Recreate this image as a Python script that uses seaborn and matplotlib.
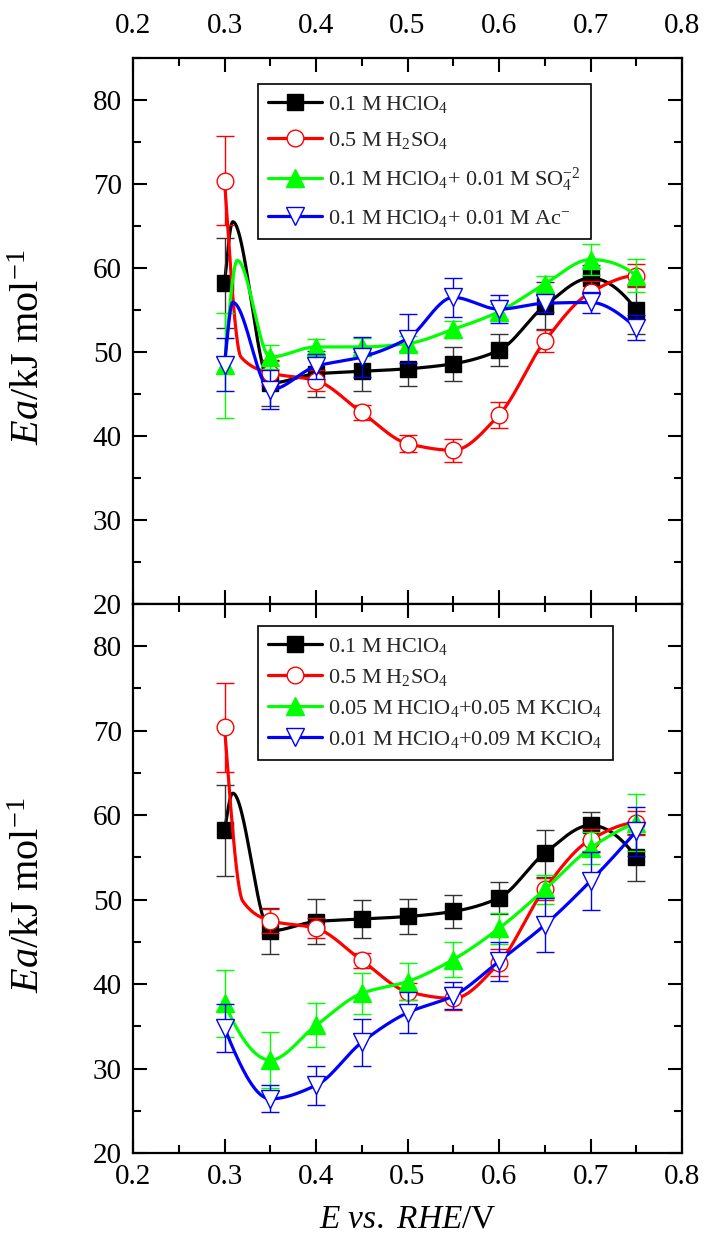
import numpy as np
import pandas as pd
import matplotlib
matplotlib.use("Agg")
import matplotlib.pyplot as plt
import seaborn as sns
from matplotlib.ticker import MultipleLocator, FormatStrFormatter
from matplotlib.lines import Line2D

# ---------------- data ----------------
E = [0.30, 0.35, 0.40, 0.45, 0.50, 0.55, 0.60, 0.65, 0.70, 0.75]

hclo4 = [58.2, 46.3, 47.4, 47.7, 48.0, 48.6, 50.2, 55.5, 58.8, 55.0]
hclo4_err = [5.4, 2.7, 2.7, 2.3, 2.1, 2.0, 1.9, 2.8, 1.6, 2.8]

h2so4 = [70.4, 47.5, 46.6, 42.8, 39.1, 38.3, 42.5, 51.3, 57.1, 59.1]
h2so4_err = [5.3, 1.4, 1.2, 0.9, 1.0, 1.4, 1.6, 1.3, 1.3, 1.4]

so4 = [48.4, 49.4, 50.6, 50.6, 51.0, 52.7, 54.8, 58.1, 61.0, 59.1]
so4_err = [6.3, 1.4, 1.0, 1.1, 0.9, 1.0, 0.9, 1.0, 1.8, 2.0]

ac = [48.5, 45.5, 48.3, 49.4, 51.6, 56.5, 55.1, 55.8, 55.9, 52.9]
ac_err = [3.2, 2.3, 1.5, 2.4, 2.9, 2.3, 1.7, 1.0, 1.2, 1.5]

kclo4_05 = [37.7, 31.0, 35.1, 38.9, 40.3, 42.9, 46.6, 51.2, 56.1, 59.1]
kclo4_05_err = [4.0, 3.3, 2.6, 2.4, 2.2, 2.1, 1.8, 1.7, 1.9, 3.4]

kclo4_09 = [34.8, 26.4, 28.0, 33.1, 36.6, 38.6, 42.7, 47.0, 52.2, 58.1]
kclo4_09_err = [2.8, 1.6, 2.3, 2.8, 2.4, 1.6, 2.3, 3.2, 3.4, 2.9]

# extra knots of the drawn (Origin-spline) curves near 0.31 V
top_knot_E = [0.309, 0.318, 0.314, 0.309]
top_knot_Ea = [65.5, 49.4, 60.9, 55.9]
bot_knot_E = [0.309, 0.320, None, None]
bot_knot_Ea = [62.6, 49.8, None, None]

top_labels = ["0.1 M\u2009HClO$_4$", "0.5 M\u2009H$_2$SO$_4$",
              "0.1 M\u2009HClO$_4$+ 0.01 M\u2009SO$_4^{-2}$",
              "0.1 M\u2009HClO$_4$+ 0.01 M\u2009Ac$^{-}$"]
bot_labels = ["0.1 M\u2009HClO$_4$", "0.5 M\u2009H$_2$SO$_4$",
              "0.05 M\u2009HClO$_4$+0.05 M\u2009KClO$_4$",
              "0.01 M\u2009HClO$_4$+0.09 M\u2009KClO$_4$"]
xticks = [0.2, 0.3, 0.4, 0.5, 0.6, 0.7, 0.8]
yticks = [20, 30, 40, 50, 60, 70, 80]

# ---------------- style ----------------
sns.set_theme(style="ticks")
plt.rcParams["font.family"] = ["Liberation Serif", "DejaVu Serif"]
plt.rcParams["mathtext.fontset"] = "custom"
plt.rcParams["mathtext.rm"] = "Liberation Serif"
plt.rcParams["mathtext.it"] = "Liberation Serif:italic"
plt.rcParams["mathtext.bf"] = "Liberation Serif:bold"

colors = ["#000000", "#ff0000", "#00ff00", "#0000ff"]
ecolors = ["#333333", "#ff0000", "#00ff00", "#0000ff"]
markers = ["s", "o", "^", "v"]
msizes = [11, 12, 13, 13]
faces = ["#000000", "white", "#00ff00", "white"]


def pchip(x, y, xn):
    x = np.asarray(x, float)
    y = np.asarray(y, float)
    h = np.diff(x)
    d = np.diff(y) / h
    n = len(x)
    m = np.zeros(n)
    for k in range(1, n - 1):
        if d[k - 1] * d[k] > 0:
            w1 = 2 * h[k] + h[k - 1]
            w2 = h[k] + 2 * h[k - 1]
            m[k] = (w1 + w2) / (w1 / d[k - 1] + w2 / d[k])

    def end(h0, h1, d0, d1):
        mm = ((2 * h0 + h1) * d0 - h0 * d1) / (h0 + h1)
        if np.sign(mm) != np.sign(d0):
            mm = 0.0
        elif np.sign(d0) != np.sign(d1) and abs(mm) > abs(3 * d0):
            mm = 3 * d0
        return mm

    m[0] = end(h[0], h[1], d[0], d[1])
    m[-1] = end(h[-1], h[-2], d[-1], d[-2])
    idx = np.clip(np.searchsorted(x, xn) - 1, 0, n - 2)
    hh = h[idx]
    t = (xn - x[idx]) / hh
    h00 = 2 * t**3 - 3 * t**2 + 1
    h10 = t**3 - 2 * t**2 + t
    h01 = -2 * t**3 + 3 * t**2
    h11 = t**3 - t**2
    return h00 * y[idx] + h10 * hh * m[idx] + h01 * y[idx + 1] + h11 * hh * m[idx + 1]


def draw_panel(ax, series, errs, kE, kY):
    handles = []
    for i, (ys, es) in enumerate(zip(series, errs)):
        kx = list(E)
        ky = list(ys)
        if kE[i] is not None:
            kx.append(kE[i])
            ky.append(kY[i])
        order = np.argsort(kx)
        kx = np.array(kx)[order]
        ky = np.array(ky)[order]
        xn = np.linspace(min(E), max(E), 600)
        yn = pchip(kx, ky, xn)
        df = pd.DataFrame({"E": xn, "Ea": yn})
        sns.lineplot(data=df, x="E", y="Ea", ax=ax, color=colors[i], lw=2.3,
                     zorder=2 + i, legend=False)
        ax.errorbar(E, ys, yerr=es, fmt="none", ecolor=ecolors[i], elinewidth=1.0,
                    capsize=6.5, capthick=1.0, zorder=2 + i)
        ax.plot(E, ys, linestyle="none", marker=markers[i], ms=msizes[i],
                mfc=faces[i], mec=colors[i], mew=1.0, zorder=3 + i)
        handles.append(Line2D([], [], color=colors[i], lw=2.3, marker=markers[i],
                              ms=msizes[i], mfc=faces[i], mec=colors[i], mew=1.0))
    return handles


fig = plt.figure(figsize=(7.05, 12.49), dpi=100)
ax1 = fig.add_axes([0.1887, 0.5164, 0.7787, 0.4372])
ax2 = fig.add_axes([0.1887, 0.0769, 0.7787, 0.4395])

h1 = draw_panel(ax1, [hclo4, h2so4, so4, ac], [hclo4_err, h2so4_err, so4_err, ac_err],
                top_knot_E, top_knot_Ea)
h2 = draw_panel(ax2, [hclo4, h2so4, kclo4_05, kclo4_09],
                [hclo4_err, h2so4_err, kclo4_05_err, kclo4_09_err],
                bot_knot_E, bot_knot_Ea)

for ax in (ax1, ax2):
    ax.set_xlim(0.2, 0.8)
    ax.set_ylim(20, 85)
    ax.set_xticks(xticks)
    ax.set_yticks(yticks)
    ax.xaxis.set_minor_locator(MultipleLocator(0.05))
    ax.yaxis.set_minor_locator(MultipleLocator(5))
    ax.xaxis.set_major_formatter(FormatStrFormatter("%.1f"))
    ax.yaxis.set_major_formatter(FormatStrFormatter("%d"))
    ax.tick_params(which="both", direction="in", top=True, right=True,
                   width=1.5, colors="black", labelsize=21)
    ax.tick_params(which="major", length=10)
    ax.tick_params(which="minor", length=6)
    ax.tick_params(axis="y", pad=8)
    for s in ax.spines.values():
        s.set_linewidth(1.6)
        s.set_color("black")
        s.set_visible(True)
    ax.set_ylabel(r"$\mathit{Ea}$/kJ mol$^{-1}$", fontsize=29, color="black")
    ax.yaxis.set_label_coords(-0.155, 0.47)
    ax.grid(False)

ax1.tick_params(axis="x", labeltop=True, labelbottom=False, pad=14)
ax1.set_xlabel("")
ax2.tick_params(axis="x", labeltop=False, labelbottom=True, pad=8)
ax2.set_xlabel(r"$\mathit{E\ vs.\ RHE}$/V", fontsize=24, color="black", labelpad=10)

for ax, hs, labs, top, ls in ((ax1, h1, top_labels, 0.952, 0.65),
                              (ax2, h2, bot_labels, 0.960, 0.45)):
    leg = ax.legend(hs, labs, loc="upper left", bbox_to_anchor=(0.228, top),
                    frameon=True, fancybox=False, edgecolor="black", framealpha=1,
                    fontsize=16, handlelength=2.4, handletextpad=0.3,
                    labelspacing=ls, borderpad=0.45, borderaxespad=0)
    leg.get_frame().set_linewidth(1.2)
    leg.set_zorder(20)

fig.savefig("out.png", dpi=100)
